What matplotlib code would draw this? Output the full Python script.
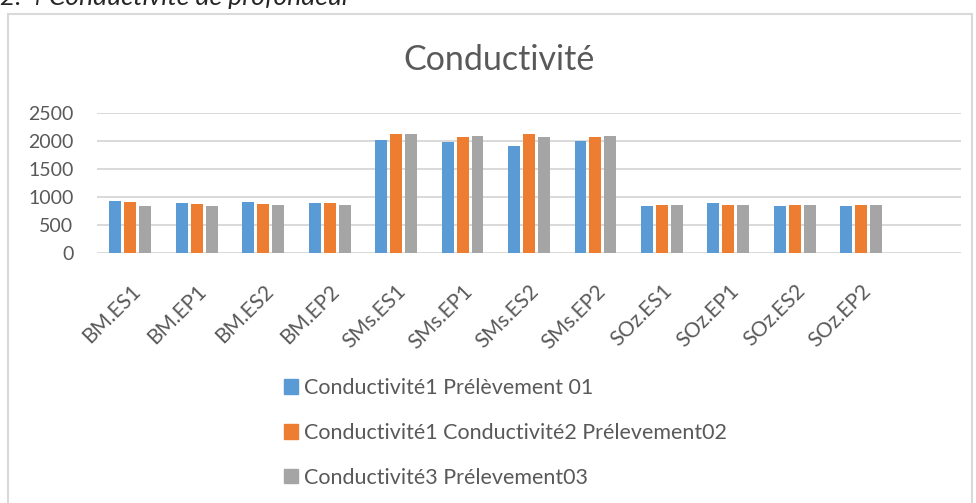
import numpy as np
import matplotlib
matplotlib.use("Agg")
import matplotlib.pyplot as plt
from matplotlib.patches import Rectangle, Patch

# values
stations = ['BM.ES1', 'BM.EP1', 'BM.ES2', 'BM.EP2',
            'SMs.ES1', 'SMs.EP1', 'SMs.ES2', 'SMs.EP2',
            'SOz.ES1', 'SOz.EP1', 'SOz.ES2', 'SOz.EP2']
prelevement_01 = [927, 897, 909, 885, 2021, 1979, 1908, 1997, 843, 891, 831, 837]
prelevement_02 = [909, 879, 867, 885, 2129, 2069, 2123, 2075, 855, 855, 849, 849]
prelevement_03 = [843, 843, 855, 861, 2117, 2093, 2075, 2087, 855, 855, 855, 855]
series_names = ['Conductivité1 Prélèvement 01',
                'Conductivité1 Conductivité2 Prélevement02',
                'Conductivité3 Prélevement03']
colors = ['#5B9BD5', '#ED7D31', '#A5A5A5']
yticks = [0, 500, 1000, 1500, 2000, 2500]

text_col = '#595959'
grid_col = '#D9D9D9'
plt.rcParams['font.family'] = ['Lato', 'DejaVu Sans']

W, H = 976, 503
fig = plt.figure(figsize=(W / 100, H / 100), dpi=100)

# outer chart frame
fig.patches.append(Rectangle((8 / W, -0.05), 964 / W, 1.05 - 14 / H,
                             transform=fig.transFigure, fill=False,
                             edgecolor=grid_col, linewidth=1.5))

# section heading, cut by the top edge as in the source page
fig.text(0.0, 1 - 5 / H, '2. 4 Conductivité de profondeur', fontsize=19,
         style='italic', color='#262626', va='baseline', ha='left')

ax = fig.add_axes([97 / W, 1 - 253 / H, 864 / W, 140 / H])

x = np.arange(len(stations))
step, width = 0.225, 0.18
for i, (vals, name, c) in enumerate(zip([prelevement_01, prelevement_02, prelevement_03],
                                        series_names, colors)):
    ax.bar(x + (i - 1) * step, vals, width, color=c, label=name, zorder=3)

ax.set_xlim(-0.5, len(stations) + 0.5)
ax.set_ylim(0, 2500)
ax.set_yticks(yticks)
ax.yaxis.grid(True, color=grid_col, linewidth=1.4, zorder=0)
for s in ax.spines.values():
    s.set_visible(False)
ax.tick_params(axis='both', length=0, colors=text_col, labelsize=14)
ax.tick_params(axis='y', pad=17)
ax.set_xticks(x)
ax.set_xticklabels(stations, rotation=45, ha='right', rotation_mode='anchor',
                   fontsize=15)
ax.tick_params(axis='x', pad=20)

fig.text(499 / W, 1 - 70 / H, 'Conductivité', fontsize=24.5, color=text_col,
         ha='center', va='baseline')

handles = [Patch(color=c) for c in colors]
fig.legend(handles, series_names, loc='center left',
           bbox_to_anchor=(275 / W, 1 - 433 / H), frameon=False,
           fontsize=15.5, labelcolor=text_col, handlelength=0.65,
           handleheight=0.65, handletextpad=0.3, labelspacing=1.15,
           borderaxespad=0)

fig.savefig('out.png', dpi=100)
